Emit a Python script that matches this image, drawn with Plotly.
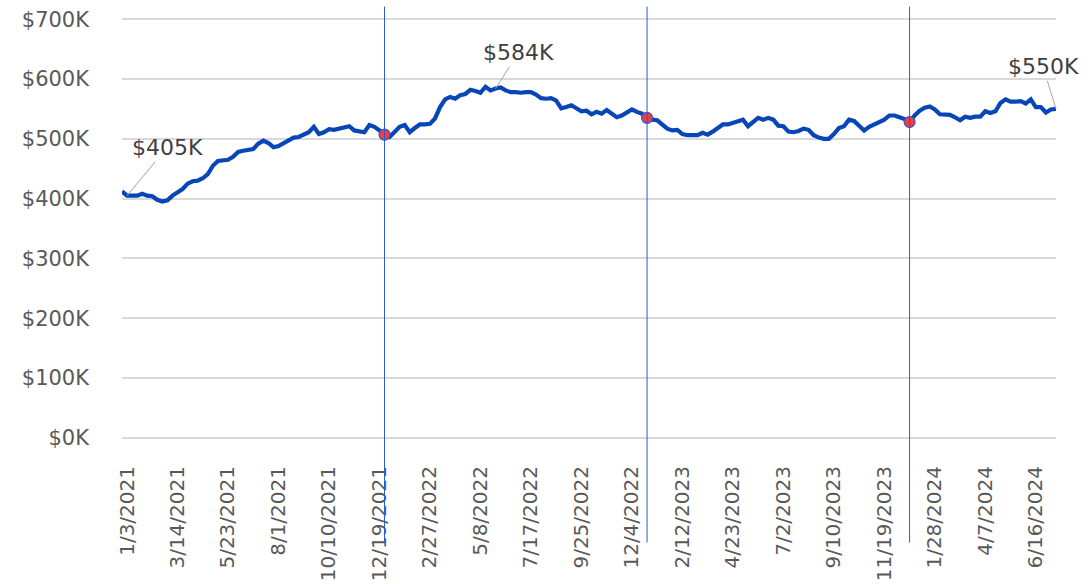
"""Weekly balance trend, 2021-2024, with year-boundary markers."""
from __future__ import annotations

import pandas as pd
import plotly.graph_objects as go

# ----- data (values in $K, one per week starting 1/3/2021) -----
START_DATE = "2021-01-03"
BALANCE_K = [
    412, 405, 405, 405, 408, 405, 404, 398, 395, 397,
    405, 410, 416, 425, 429, 430, 434, 441, 455, 463,
    464, 465, 470, 478, 480, 482, 483, 492, 497, 493,
    486, 488, 493, 497, 502, 503, 508, 511, 520, 508,
    511, 516, 515, 517, 520, 521, 514, 513, 511, 523,
    520, 514, 507, 503, 511, 520, 523, 511, 518, 524,
    524, 525, 534, 553, 566, 570, 567, 573, 575, 582,
    580, 577, 587, 581, 584, 586, 581, 578, 578, 577,
    578, 578, 574, 568, 567, 568, 564, 551, 553, 556,
    551, 546, 547, 541, 545, 542, 548, 542, 536, 539,
    545, 549, 545, 542, 535, 532, 531, 524, 517, 514,
    515, 508, 506, 506, 506, 510, 507, 512, 518, 524,
    524, 527, 529, 532, 521, 528, 535, 532, 535, 532,
    522, 521, 512, 511, 513, 517, 515, 506, 502, 500,
    500, 508, 518, 521, 532, 530, 521, 514, 520, 524,
    527, 532, 539, 539, 536, 533, 528, 539, 547, 552,
    554, 549, 541, 541, 540, 536, 531, 537, 535, 537,
    537, 546, 543, 546, 560, 566, 562, 562, 563, 559,
    566, 553, 553, 544, 549, 550,
]
YEAR_MARK_WEEKS = [52, 104, 156]       # first week of 2022, 2023, 2024
LABEL_WEEKS = [1, 74, len(BALANCE_K) - 1]
LABEL_OFFSETS = [(40, -48), (23, -36), (-13, -42)]
TICK_EVERY = 10
Y_TICKS_K = [0, 100, 200, 300, 400, 500, 600, 700]

LINE_BLUE = "#0846b8"
MARK_BLUE = "#2a5ad4"
GRID = "#d9d9d9"
TEXT = "#595959"
FONT = "DejaVu Sans"


def balance_trend() -> go.Figure:
    dates = pd.date_range(START_DATE, periods=len(BALANCE_K), freq="W-SUN")
    s = pd.Series(BALANCE_K, index=dates)

    fig = go.Figure()
    fig.add_trace(go.Scatter(
        x=dates, y=s.values, mode="lines",
        line=dict(color=LINE_BLUE, width=4.2), hoverinfo="skip",
    ))
    mark_dates = dates[YEAR_MARK_WEEKS]
    for d in mark_dates:
        # year-boundary rule, runs from above the plot down into the tick labels
        fig.add_shape(type="line", xref="x", yref="paper", x0=d, x1=d,
                      y0=-0.246, y1=1.027, line=dict(color=MARK_BLUE, width=1))
    fig.add_trace(go.Scatter(
        x=mark_dates, y=s.iloc[YEAR_MARK_WEEKS].values, mode="markers",
        marker=dict(color="#f23c3c", size=11, line=dict(color=MARK_BLUE, width=1.2)),
        hoverinfo="skip",
    ))

    for w, (ax, ay) in zip(LABEL_WEEKS, LABEL_OFFSETS):
        fig.add_annotation(
            x=dates[w], y=BALANCE_K[w], text=f"${BALANCE_K[w]}K",
            showarrow=True, arrowhead=0, arrowwidth=1, arrowcolor="#a6a6a6",
            ax=ax, ay=ay, font=dict(family=FONT, size=22, color="#404040"),
        )

    tick_dates = dates[::TICK_EVERY]
    fig.update_xaxes(
        range=[dates[0], dates[-1]], tickvals=tick_dates,
        ticktext=[f"{d.month}/{d.day}/{d.year}" for d in tick_dates],
        tickangle=-90, showgrid=False, showline=False, zeroline=False,
        ticks="", ticklabelstandoff=22, ticklabelshift=5, automargin=False,
        tickfont=dict(family=FONT, size=20, color=TEXT),
    )
    # pad the range a touch so the 0 and 700 gridlines are still drawn
    fig.update_yaxes(
        range=[-2, 702], tickvals=Y_TICKS_K,
        ticktext=[f"${v}K" for v in Y_TICKS_K],
        showgrid=True, gridcolor=GRID, gridwidth=1.5, zeroline=False,
        showline=False, ticks="", ticklabelstandoff=32, automargin=False,
        tickfont=dict(family=FONT, size=21, color=TEXT),
    )
    fig.update_layout(
        width=1091, height=584, showlegend=False,
        margin=dict(l=122, r=35, t=18, b=145, autoexpand=False),
        plot_bgcolor="white", paper_bgcolor="white",
        font=dict(family=FONT, color=TEXT),
    )
    return fig


fig = balance_trend()
# drop the browser's default 8px body margin so the chart sits at the page corner
fig.write_html("out.html", config={"displayModeBar": False},
               post_script="document.body.style.margin='0';")
